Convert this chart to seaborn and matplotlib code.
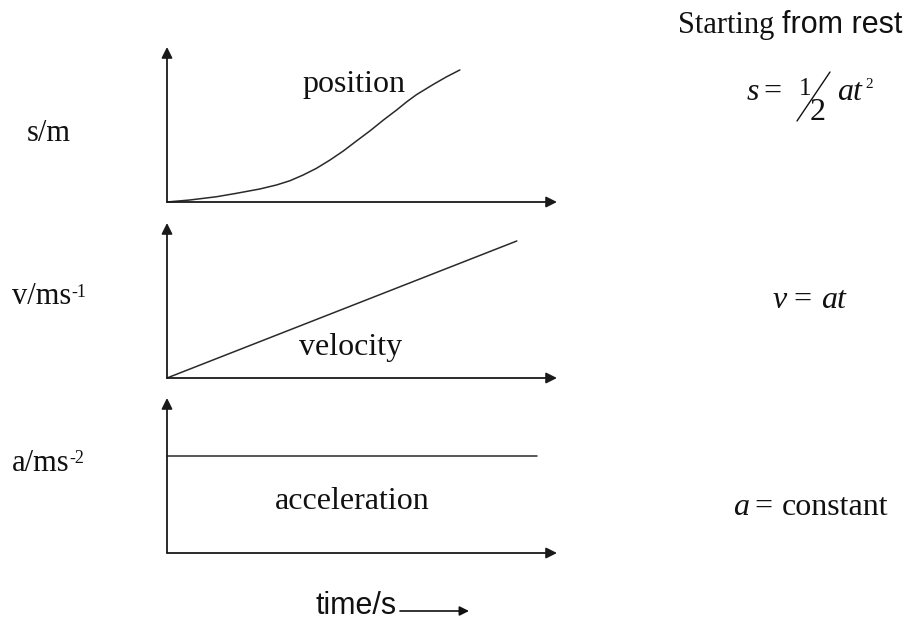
import matplotlib
matplotlib.use("Agg")
import matplotlib.pyplot as plt
import seaborn as sns
import pandas as pd
from matplotlib.lines import Line2D
from matplotlib.patches import FancyArrowPatch

# ---- data ----
time_pos = [0, 0.59, 1.27, 1.78, 2.38, 2.81, 3.15, 3.49, 3.83, 4.18, 4.52,
            4.86, 5.21, 5.55, 5.89, 6.15, 6.40, 6.83, 7.17, 7.51]
position = [0, 0.13, 0.34, 0.56, 0.84, 1.10, 1.37, 1.74, 2.17, 2.71, 3.29,
            3.94, 4.60, 5.29, 5.94, 6.47, 6.93, 7.59, 8.08, 8.52]
time_vel = [0, 8.97]
velocity = [0, 8.84]
time_acc = [0, 9.49]
acceleration = [6.26, 6.26]

panel_labels = ["position", "velocity", "acceleration"]
y_units = ["s/m", "v/ms", "a/ms"]
y_unit_powers = ["", "-1", "-2"]

sns.set_style("white")
plt.rcParams["font.family"] = ["Liberation Serif", "DejaVu Serif"]

W, H = 909, 621
fig = plt.figure(figsize=(W / 100, H / 100), dpi=100)
fig.patch.set_facecolor("white")


def fx(x):
    return x / W


def fy(y):
    return 1 - y / H


def ftext(x, y, s, **kw):
    kw.setdefault("fontsize", 22)
    kw.setdefault("color", "#111111")
    fig.text(fx(x), fy(y), s, va="baseline", ha="left", **kw)


left, width, height = fx(167), 390 / W, 155 / H
bottoms = [fy(202), fy(378), fy(553)]
series = [
    (time_pos, position),
    (time_vel, velocity),
    (time_acc, acceleration),
]

line_color = "#2a2a2a"
for b, (tx, vy) in zip(bottoms, series):
    ax = fig.add_axes([left, b, width, height])
    ax.set_xlim(0, 10)
    ax.set_ylim(0, 10)
    for sp in ax.spines.values():
        sp.set_visible(False)
    ax.set_xticks([])
    ax.set_yticks([])
    ax.set_facecolor("none")
    df = pd.DataFrame({"t": tx, "v": vy})
    sns.lineplot(data=df, x="t", y="v", ax=ax, color=line_color,
                 linewidth=1.1, sort=False, clip_on=False)
    ax.set_xlabel("")
    ax.set_ylabel("")
    arrow = dict(arrowstyle="-|>", color="#1a1a1a", lw=1.3,
                 mutation_scale=16, shrinkA=0, shrinkB=0)
    ax.annotate("", xy=(1, 0), xytext=(0, 0), xycoords="axes fraction",
                textcoords="axes fraction", arrowprops=arrow,
                annotation_clip=False)
    ax.annotate("", xy=(0, 1), xytext=(0, 0), xycoords="axes fraction",
                textcoords="axes fraction", arrowprops=arrow,
                annotation_clip=False)

# panel texts
ftext(302, 92, panel_labels[0], fontsize=23)
ftext(299, 355, panel_labels[1], fontsize=23)
ftext(275, 509, panel_labels[2], fontsize=23)

# y unit labels
ftext(27, 141, y_units[0])
ftext(12, 304, y_units[1])
ftext(71, 297, y_unit_powers[1], fontsize=13)
ftext(12, 471, y_units[2])
ftext(69, 463, y_unit_powers[2], fontsize=13)

# time label
ftext(316, 614, "time/s", family=["Liberation Sans", "DejaVu Sans"])
fig.add_artist(
    FancyArrowPatch(
        (fx(400), fy(611)), (fx(469), fy(611)), transform=fig.transFigure,
        arrowstyle="-|>", mutation_scale=14, color="#111111", lw=1.2,
        shrinkA=0, shrinkB=0))

# right-hand annotations
ftext(678, 33, "Starting")
ftext(782, 33, "from rest", family=["Liberation Sans", "DejaVu Sans"])

ftext(747, 100, "s", style="italic", fontsize=23)
ftext(763, 100, "=", fontsize=23)
ftext(799, 95, "1", fontsize=18)
fig.add_artist(Line2D([fx(797), fx(830)], [fy(121), fy(72)],
                      transform=fig.transFigure, color="#111111", lw=1.0))
ftext(810, 120, "2", fontsize=23)
ftext(837, 100, "at", style="italic", fontsize=23)
ftext(865, 88, "2", fontsize=11)

ftext(773, 308, "v", style="italic", fontsize=23)
ftext(793, 308, "=", fontsize=23)
ftext(821, 308, "at", style="italic", fontsize=23)

ftext(733, 515, "a", style="italic", fontsize=23)
ftext(754, 515, "=", fontsize=23)
ftext(782, 515, "constant", fontsize=23)

fig.savefig("out.png", dpi=100, facecolor="white")
